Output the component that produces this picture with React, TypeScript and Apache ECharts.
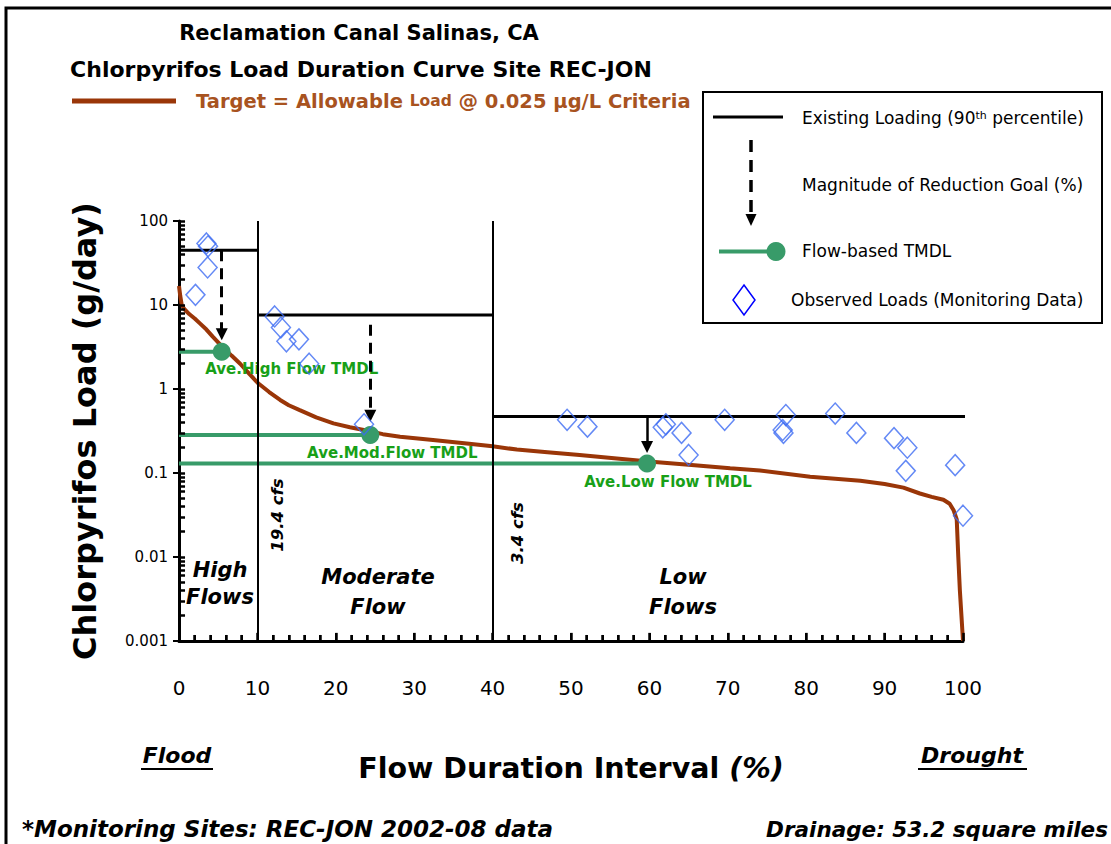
import React, { useEffect, useRef } from "react";
import * as echarts from "echarts";

// ---------- data ----------
const curveX = [0, 0.15, 0.35, 0.7, 1.3, 2, 2.7, 3.5, 4.3, 5.5, 6.7, 7.8, 9, 10.1, 11.5, 12.9, 14, 15.4, 17.5, 19.7, 21.8, 23.9, 26, 28.2, 32.4, 36.7, 40, 43.1, 47, 51.1, 55.5, 59.9, 65, 70.3, 74.1, 80.5, 86.9, 90, 92.4, 94.5, 96, 97.5, 98.3, 98.8, 99.2, 99.4, 99.6, 99.8, 100];
const curveY = [16.8, 13, 10, 8.9, 7.8, 6.9, 6.0, 5.1, 4.2, 3.2, 2.5, 2.0, 1.5, 1.17, 0.92, 0.74, 0.64, 0.56, 0.46, 0.39, 0.35, 0.32, 0.29, 0.27, 0.247, 0.225, 0.208, 0.19, 0.177, 0.164, 0.15, 0.137, 0.125, 0.114, 0.107, 0.09, 0.081, 0.074, 0.067, 0.057, 0.052, 0.048, 0.043, 0.036, 0.028, 0.01, 0.004, 0.002, 0.001];

const obsX = [2.1, 3.5, 3.7, 3.65, 12.2, 13.0, 13.7, 15.3, 16.6, 23.6, 49.5, 52.1, 61.7, 62.1, 64.1, 65.0, 69.6, 77.4, 77.0, 77.1, 83.7, 86.4, 91.2, 92.9, 92.7, 99.0, 100.0];
const obsY = [13.2, 54, 50, 28, 7.3, 5.4, 3.7, 3.9, 2.0, 0.38, 0.43, 0.356, 0.35, 0.38, 0.3, 0.164, 0.43, 0.49, 0.325, 0.3, 0.51, 0.3, 0.26, 0.2, 0.106, 0.124, 0.031];

const existStart = [0, 10, 40];
const existEnd = [10, 40, 102.3];
const existValue = [45, 7.6, 0.47];

const boundaryX = [10, 40];

const tmdlNames = ["Ave.High Flow TMDL", "Ave.Mod.Flow TMDL", "Ave.Low Flow TMDL"];
const tmdlX = [5.45, 24.4, 59.7];
const tmdlY = [2.78, 0.283, 0.13];

const arrowX = [5.45, 24.4, 59.7];
const arrowFrom = [45, 5.8, 0.47];
const arrowTo = [4.5, 0.48, 0.204];
const arrowDashed = [true, true, false];

const xTickLabels = ["0", "10", "20", "30", "40", "50", "60", "70", "80", "90", "100"];
const xMajorTicks = [0, 10, 20, 30, 40, 50, 60, 70, 80, 90, 100];
const xMinorTicks = [2, 4, 6, 8, 12, 14, 16, 18, 22, 24, 26, 28, 32, 34, 36, 38, 42, 44, 46, 48, 52, 54, 56, 58, 62, 64, 66, 68, 72, 74, 76, 78, 82, 84, 86, 88, 92, 94, 96, 98];
const yTickLabels = ["0.001", "0.01", "0.1", "1", "10", "100"];
const yDecades = [0.001, 0.01, 0.1, 1, 10];
const yMinorMultipliers = [1, 2, 3, 4, 5, 6, 7, 8, 9];

// tick extents expressed on the axes (log y: 84 px per decade, x: 7.84 px per unit)
const xMajorTickLow = 0.00074; // ~11 px below the axis
const xMajorTickHigh = 0.00125; // ~8 px above the axis
const xMinorTickHigh = 0.00118; // ~6 px above the axis
const xTickBase = 0.001;
const yTickReach = 0.77; // ~6 px to the right of the y axis

// ---------- style ----------
const FONT = "'Comic Sans MS', 'DejaVu Sans', sans-serif";
const BROWN = "#9a3608";
const BROWN_TEXT = "#a8531f";
const GREEN = "#389b69";
const GREEN_TEXT = "#18a018";
const BLUE = "#3d6cf2";
const BLACK = "#000";

export default function App() {
  const ref = useRef<HTMLDivElement>(null);

  useEffect(() => {
    if (!ref.current) return;
    const chart = echarts.init(ref.current, undefined, { renderer: "svg" });

    const yTickValues: number[] = [];
    yDecades.forEach((d) => yMinorMultipliers.forEach((m) => yTickValues.push(d * m)));
    yTickValues.push(100);

    // tick segments as mark lines (same primitive as the arrows, which render)
    const tickPairs: any[] = [];
    xMajorTicks.forEach((x) => {
      tickPairs.push([{ coord: [x, xTickBase] }, { coord: [x, xMajorTickHigh] }]);
      tickPairs.push([{ coord: [x, xMajorTickLow] }, { coord: [x, xTickBase] }]);
    });
    xMinorTicks.forEach((x) => {
      tickPairs.push([{ coord: [x, xTickBase] }, { coord: [x, xMinorTickHigh] }]);
    });
    yTickValues.forEach((v) => {
      tickPairs.push([{ coord: [0, v] }, { coord: [yTickReach, v] }]);
    });

    const labelOffsets = [[70, -4], [22, -4], [21, -3]];

    const tmdlSeries = tmdlX.map((x, i) => ({
      type: "line",
      silent: true,
      clip: false,
      z: 4,
      data: [
        { value: [0, tmdlY[i]], symbol: "none" },
        {
          value: [x, tmdlY[i]],
          symbol: "circle",
          symbolSize: 18,
          label: {
            show: true,
            position: "bottom",
            offset: labelOffsets[i],
            formatter: tmdlNames[i],
            color: GREEN_TEXT,
            fontFamily: FONT,
            fontWeight: "bold",
            fontSize: 15,
          },
        },
      ],
      showSymbol: true,
      showAllSymbol: true,
      lineStyle: { color: GREEN, width: 4 },
      itemStyle: { color: GREEN },
    }));

    const existSeries: any[] = existStart.map((s, i) => ({
      type: "line",
      silent: true,
      clip: false,
      z: 3,
      symbol: "none",
      data: [
        [s, existValue[i]],
        [existEnd[i], existValue[i]],
      ],
      lineStyle: { color: BLACK, width: 3 },
    }));
    existSeries[0].markLine = {
      silent: true,
      symbol: "none",
      label: { show: false },
      lineStyle: { color: BLACK, width: 2.5, type: "solid" },
      data: tickPairs,
    };

    const arrowLines = arrowX.map((x, i) => [
      {
        coord: [x, arrowFrom[i]],
        lineStyle: {
          color: BLACK,
          width: arrowDashed[i] ? 3 : 2.5,
          type: arrowDashed[i] ? [11, 7] : "solid",
        },
      },
      { coord: [x, arrowTo[i]] },
    ]);

    const txt = (x: number, y: number, text: string, o: any = {}) => ({
      type: "text",
      x,
      y,
      rotation: o.rotation || 0,
      z: 10,
      style: {
        text,
        fill: o.fill || BLACK,
        fontFamily: FONT,
        fontSize: o.fontSize || 15,
        fontWeight: o.fontWeight || "normal",
        fontStyle: o.fontStyle || "normal",
        align: o.align || "left",
        textAlign: o.align || "left",
        verticalAlign: "middle",
        textVerticalAlign: "middle",
        lineHeight: o.lineHeight,
        rich: o.rich,
      },
    });

    const option: any = {
      animation: false,
      backgroundColor: "#fff",
      grid: { left: 179, top: 221, width: 784, height: 420, containLabel: false },
      xAxis: {
        type: "value",
        position: "bottom",
        min: 0,
        max: 100,
        interval: 10,
        name: "Flow Duration Interval {i|(%)}",
        nameLocation: "middle",
        nameGap: 113,
        nameTextStyle: {
          fontFamily: FONT,
          fontSize: 28.5,
          fontWeight: "bold",
          color: BLACK,
          rich: {
            i: { fontFamily: FONT, fontSize: 28.5, fontWeight: "bold", fontStyle: "italic", color: BLACK },
          },
        },
        axisLine: { show: true, onZero: false, lineStyle: { color: BLACK, width: 3 } },
        axisTick: { show: true, inside: true, length: 8, lineStyle: { color: BLACK, width: 2 } },
        minorTick: { show: true, splitNumber: 5, length: 6, lineStyle: { color: BLACK, width: 2 } },
        axisLabel: {
          margin: 37,
          fontSize: 20,
          color: BLACK,
          fontFamily: FONT,
          formatter: (v: number) => xTickLabels[Math.round(v / 10)] ?? String(v),
        },
        splitLine: { show: false },
        minorSplitLine: { show: false },
      },
      yAxis: {
        type: "log",
        logBase: 10,
        min: 0.001,
        max: 100,
        name: "Chlorpyrifos Load (g/day)",
        nameLocation: "middle",
        nameGap: 78,
        nameTextStyle: { fontFamily: FONT, fontSize: 32, fontWeight: "bold", color: BLACK },
        axisLine: { show: true, onZero: false, lineStyle: { color: BLACK, width: 3 } },
        axisTick: { show: true, length: 6, lineStyle: { color: BLACK, width: 2 } },
        axisLabel: {
          margin: 11,
          fontSize: 15,
          color: BLACK,
          fontFamily: FONT,
          formatter: (v: number) => yTickLabels[Math.round(Math.log10(v)) + 3] ?? String(v),
        },
        splitLine: { show: false },
      },
      series: [
        ...existSeries,
        {
          type: "line",
          name: "Target",
          silent: true,
          clip: false,
          z: 3,
          symbol: "none",
          data: curveX.map((x, i) => [x, curveY[i]]),
          lineStyle: { color: BROWN, width: 4 },
          markLine: {
            silent: true,
            symbol: "none",
            label: { show: false },
            lineStyle: { color: BLACK, width: 2, type: "solid" },
            data: boundaryX.map((x) => ({ xAxis: x })),
          },
        },
        ...tmdlSeries,
        {
          type: "scatter",
          name: "Observed",
          silent: true,
          clip: false,
          z: 6,
          symbol: "diamond",
          symbolSize: [19, 21],
          data: obsX.map((x, i) => [x, obsY[i]]),
          itemStyle: { color: "rgba(255,255,255,0)", borderColor: BLUE, borderWidth: 1.5 },
          markLine: {
            silent: true,
            symbol: ["none", "triangle"],
            symbolSize: 12,
            label: { show: false },
            data: arrowLines,
          },
        },
      ],
      graphic: [
        {
          type: "rect",
          z: 0,
          shape: { x: 6, y: 8, width: 1200, height: 900 },
          style: { fill: "none", stroke: BLACK, lineWidth: 3 },
        },
        txt(359, 33, "Reclamation Canal Salinas, CA", { fontSize: 21, fontWeight: "bold", align: "center" }),
        txt(361, 69, "Chlorpyrifos Load Duration Curve Site REC-JON", { fontSize: 22, fontWeight: "bold", align: "center" }),
        {
          type: "line",
          z: 10,
          shape: { x1: 72, y1: 101, x2: 176, y2: 101 },
          style: { stroke: BROWN, lineWidth: 5 },
        },
        txt(196, 101, "Target = Allowable {s|Load} @ 0.025 µg/L Criteria", {
          fontSize: 19.5,
          fontWeight: "bold",
          fill: BROWN_TEXT,
          rich: { s: { fontSize: 15.5, fontWeight: "bold", fontFamily: FONT, fill: BROWN_TEXT, color: BROWN_TEXT } },
        }),
        // legend box
        {
          type: "rect",
          z: 9,
          shape: { x: 703, y: 92, width: 399, height: 231 },
          style: { fill: "#fff", stroke: BLACK, lineWidth: 2 },
        },
        { type: "line", z: 10, shape: { x1: 713, y1: 117, x2: 783, y2: 117 }, style: { stroke: BLACK, lineWidth: 3 } },
        txt(802, 118, "Existing Loading (90{sup|th} percentile)", {
          fontSize: 17,
          rich: { sup: { fontSize: 11, verticalAlign: "top", fontFamily: FONT, fill: BLACK, color: BLACK } },
        }),
        {
          type: "line",
          z: 10,
          shape: { x1: 751, y1: 140, x2: 751, y2: 216 },
          style: { stroke: BLACK, lineWidth: 3.5, lineDash: [12, 8] },
        },
        {
          type: "polygon",
          z: 10,
          shape: { points: [[745.5, 214], [756.5, 214], [751, 226]] },
          style: { fill: BLACK },
        },
        txt(802, 185, "Magnitude of Reduction Goal (%)", { fontSize: 17 }),
        { type: "line", z: 10, shape: { x1: 719, y1: 251.5, x2: 776, y2: 251.5 }, style: { stroke: GREEN, lineWidth: 4 } },
        { type: "circle", z: 10, shape: { cx: 776, cy: 251.5, r: 9.5 }, style: { fill: GREEN } },
        txt(802, 251, "Flow-based TMDL", { fontSize: 17 }),
        {
          type: "polygon",
          z: 10,
          shape: { points: [[744, 285], [755, 300], [744, 315], [733, 300]] },
          style: { fill: "none", stroke: "#0000ff", lineWidth: 1.5 },
        },
        txt(791, 300, "Observed Loads (Monitoring Data)", { fontSize: 17 }),
        // region labels
        txt(220, 583, "High\nFlows", { fontSize: 21, fontWeight: "bold", fontStyle: "italic", align: "center", lineHeight: 27 }),
        txt(378, 592, "Moderate\nFlow", { fontSize: 21, fontWeight: "bold", fontStyle: "italic", align: "center", lineHeight: 30 }),
        txt(683, 592, "Low\nFlows", { fontSize: 21, fontWeight: "bold", fontStyle: "italic", align: "center", lineHeight: 30 }),
        txt(277, 515, "19.4 cfs", { fontSize: 16.5, fontWeight: "bold", fontStyle: "italic", align: "center", rotation: Math.PI / 2 }),
        txt(517, 533, "3.4 cfs", { fontSize: 16.5, fontWeight: "bold", fontStyle: "italic", align: "center", rotation: Math.PI / 2 }),
        // flood / drought
        txt(177, 755, "Flood", { fontSize: 22, fontWeight: "bold", fontStyle: "italic", align: "center" }),
        { type: "line", z: 10, shape: { x1: 141, y1: 769, x2: 213, y2: 769 }, style: { stroke: BLACK, lineWidth: 2 } },
        txt(972, 755, "Drought", { fontSize: 22, fontWeight: "bold", fontStyle: "italic", align: "center" }),
        { type: "line", z: 10, shape: { x1: 918, y1: 769, x2: 1027, y2: 769 }, style: { stroke: BLACK, lineWidth: 2 } },
        // footer
        txt(22, 829, "*Monitoring Sites: REC-JON 2002-08 data", { fontSize: 23, fontWeight: "bold", fontStyle: "italic" }),
        txt(1108, 829, "Drainage: 53.2 square miles", { fontSize: 21.5, fontWeight: "bold", fontStyle: "italic", align: "right" }),
      ],
    };

    chart.setOption(option);
    return () => chart.dispose();
  }, []);

  return (
    <div
      ref={ref}
      style={{ position: "fixed", left: 0, top: 0, width: 1111, height: 844, background: "#fff" }}
    />
  );
}
